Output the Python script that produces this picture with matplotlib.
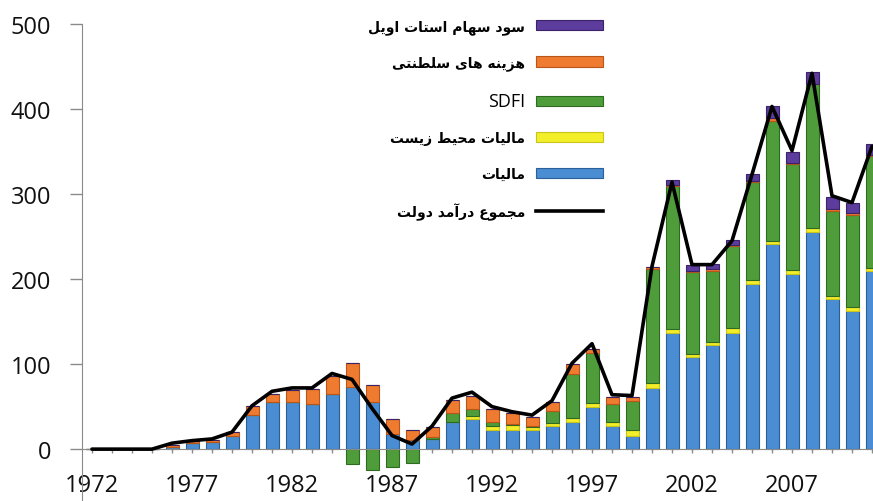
import numpy as np
import matplotlib
matplotlib.use("Agg")
import matplotlib.pyplot as plt
from matplotlib.lines import Line2D

# ============================================================
# DATA
# ============================================================

years = list(range(1972, 2012))

# مالیات (blue)
taxes = [0, 0, 0, 0, 3, 7, 8, 16, 40, 55,
         55, 53, 65, 73, 55, 18, 11, 12, 32, 35,
         22, 23, 22, 27, 32, 50, 27, 15, 72, 136,
         108, 122, 137, 194, 241, 206, 255, 176, 163, 210]

# مالیات محیط زیست (yellow)
env_taxes = [0, 0, 0, 0, 0, 0, 0, 0, 0, 0,
             0, 0, 0, 0, 0, 0, 0, 0, 0, 4,
             5, 5, 4, 4, 5, 4, 5, 7, 6, 5,
             4, 4, 5, 5, 4, 5, 5, 4, 4, 3]

# SDFI (green)
sdfi = [0, 0, 0, 0, 0, 0, 0, 0, 0, 0,
        0, 0, 0, -18, -24, -21, -16, 2, 11, 8,
        5, 1, 1, 14, 51, 59, 21, 35, 134, 169,
        96, 84, 97, 115, 141, 124, 169, 100, 108, 132]

# هزینه های سلطنتی (orange)
royalties = [0, 0, 0, 0, 2, 2, 3, 4, 11, 10,
             14, 18, 21, 28, 21, 18, 12, 12, 15, 16,
             15, 13, 11, 10, 12, 5, 8, 4, 2, 1,
             2, 2, 1, 1, 3, 1, 1, 2, 3, 1]

# سود سهام استات اویل (purple)
dividends = [0, 0, 0, 0, 0, 0, 0, 0, 0, 0,
             0, 0, 0, 0, 0, 0, 0, 0, 0, 0,
             0, 0, 0, 0, 0, 0, 0, 0, 0, 5,
             6, 6, 6, 8, 14, 14, 13, 15, 12, 13]

# مجموع درآمد دولت (black line)
total = [0, 0, 0, 0, 7, 10, 12, 20, 51, 68,
         72, 72, 89, 82, 48, 16, 6, 27, 60, 67,
         50, 44, 40, 57, 101, 124, 64, 63, 215, 314,
         217, 217, 245, 323, 403, 351, 442, 298, 290, 356]

lbl_dividends = "سود سهام استات اویل"
lbl_royalties = "هزینه های سلطنتی"
lbl_sdfi = "SDFI"
lbl_env = "مالیات محیط زیست"
lbl_taxes = "مالیات"
lbl_total = "مجموع درآمد دولت"

# ============================================================
# Persian text: matplotlib has no shaping, so pick the joined
# presentation forms by hand and lay the string out right-to-left
# ============================================================

DUAL = {'ب': 0xFE8F, 'پ': 0xFB56, 'ت': 0xFE95, 'ث': 0xFE99, 'ج': 0xFE9D,
        'چ': 0xFB7A, 'ح': 0xFEA1, 'خ': 0xFEA5, 'س': 0xFEB1, 'ش': 0xFEB5,
        'ص': 0xFEB9, 'ض': 0xFEBD, 'ط': 0xFEC1, 'ظ': 0xFEC5, 'ع': 0xFEC9,
        'غ': 0xFECD, 'ف': 0xFED1, 'ق': 0xFED5, 'ک': 0xFB8E, 'گ': 0xFB92,
        'ل': 0xFEDD, 'م': 0xFEE1, 'ن': 0xFEE5, 'ه': 0xFEE9, 'ی': 0xFBFC}
RIGHT = {'ا': 0xFE8D, 'آ': 0xFE81, 'د': 0xFEA9, 'ذ': 0xFEAB, 'ر': 0xFEAD,
         'ز': 0xFEAF, 'ژ': 0xFB8A, 'و': 0xFEED}


def fa(text):
    out = []
    for i, ch in enumerate(text):
        prev = text[i - 1] if i > 0 else ''
        nxt = text[i + 1] if i < len(text) - 1 else ''
        joins_prev = prev in DUAL
        joins_next = nxt in DUAL or nxt in RIGHT
        if ch in DUAL:
            base = DUAL[ch]
            if joins_prev and joins_next:
                out.append(chr(base + 3))
            elif joins_prev:
                out.append(chr(base + 1))
            elif joins_next:
                out.append(chr(base + 2))
            else:
                out.append(chr(base))
        elif ch in RIGHT:
            base = RIGHT[ch]
            out.append(chr(base + 1) if joins_prev else chr(base))
        else:
            out.append(ch)
    return ''.join(out)[::-1]


# ============================================================
# PLOT
# ============================================================

plt.rcParams['font.family'] = ['Open Sans', 'DejaVu Sans']

W, H = 873, 502
fig = plt.figure(figsize=(W / 100, H / 100), dpi=100)
ax = fig.add_axes([82 / W, 0, 1 - 82 / W, (H - 25) / H])
ax.set_xlim(1971.5, 2011.05)
ax.set_ylim(-61, 500)

series = [
    (taxes, '#4a8dd2', '#2a5f9a'),
    (env_taxes, '#f2ee2a', '#c9c41c'),
    (sdfi, '#4f9d3a', '#2f6a22'),
    (royalties, '#ef7b30', '#b8561a'),
    (dividends, '#5c3c9c', '#3a2368'),
]

pos_bottom = np.zeros(len(years))
neg_bottom = np.zeros(len(years))
bars = []
for vals, fc, ec in series:
    v = np.array(vals, dtype=float)
    bottom = np.where(v >= 0, pos_bottom, neg_bottom)
    b = ax.bar(years, v, 0.65, bottom=bottom, color=fc, edgecolor=ec,
               linewidth=0.8, zorder=2)
    bars.append(b)
    pos_bottom += np.clip(v, 0, None)
    neg_bottom += np.clip(v, None, 0)

# total line
ax.plot(years, total, color='black', linewidth=2.6,
        solid_joinstyle='round', solid_capstyle='round', zorder=4)

# axes styling
for s in ['top', 'right']:
    ax.spines[s].set_visible(False)
ax.spines['bottom'].set_position(('data', 0))
ax.spines['bottom'].set_color('#8a8a8a')
ax.spines['left'].set_color('#8a8a8a')
ax.spines['bottom'].set_zorder(3)

ax.set_yticks([0, 100, 200, 300, 400, 500])
ax.set_xticks(years)
ax.set_xticklabels([str(y) if (y - 1972) % 5 == 0 else '' for y in years])
ax.tick_params(axis='y', length=9, width=1, color='#8a8a8a', pad=13,
               labelsize=17, labelcolor='#111111')
ax.tick_params(axis='x', length=3, width=1, color='#8a8a8a', pad=14,
               labelsize=17, labelcolor='#111111')

# legend
handles = [bars[4], bars[3], bars[2], bars[1], bars[0],
           Line2D([], [], color='black', linewidth=2.6)]
labels = [fa(lbl_dividends), fa(lbl_royalties), lbl_sdfi, fa(lbl_env),
          fa(lbl_taxes), fa(lbl_total)]
leg = fig.legend(handles, labels, loc='upper right',
                 bbox_to_anchor=(603 / W, 1 - 20 / H), markerfirst=False,
                 frameon=False, borderpad=0, borderaxespad=0,
                 handlelength=4.8, handleheight=0.75, handletextpad=0.8,
                 labelspacing=1.55,
                 prop={'family': ['DejaVu Sans'], 'weight': 'bold', 'size': 10})
for t in leg.get_texts():
    if t.get_text() == lbl_sdfi:
        t.set_fontsize(13)
        t.set_fontweight('normal')
        t.set_family(['Open Sans', 'DejaVu Sans'])

fig.savefig('out.png', dpi=100, facecolor='white')
